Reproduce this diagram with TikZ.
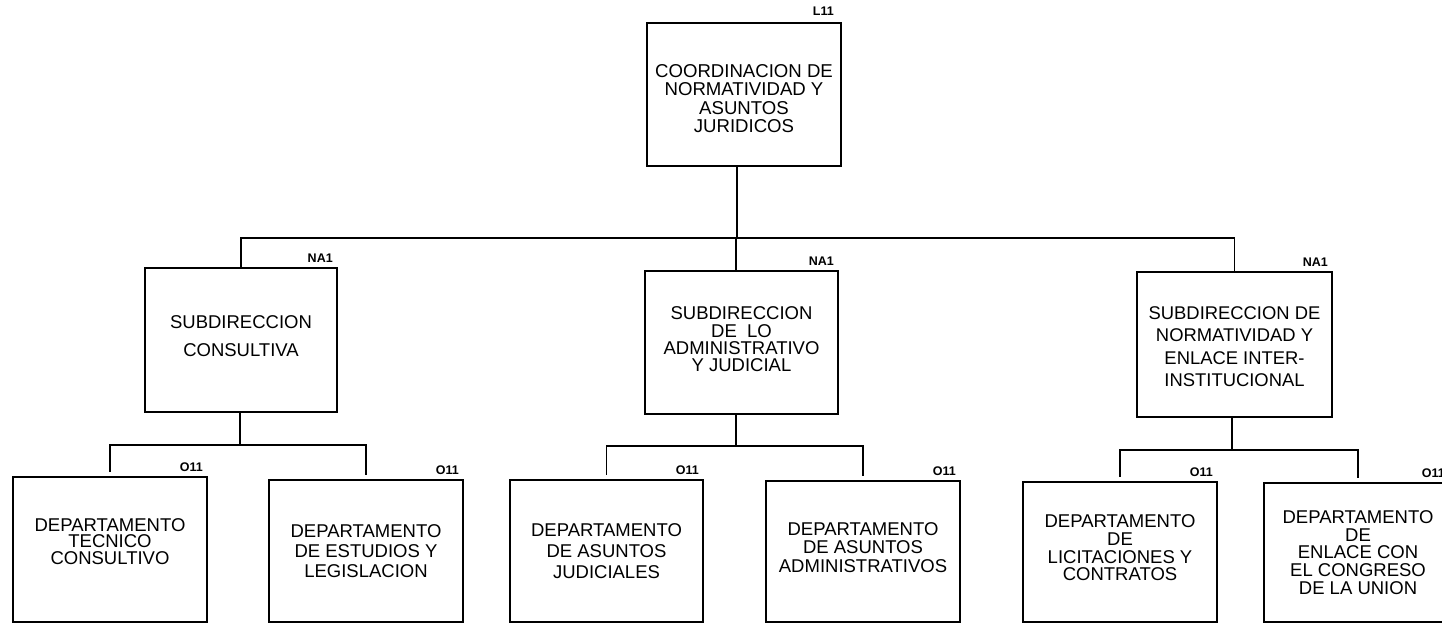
\documentclass[tikz,border=0pt]{standalone}
\usepackage{fontspec}
\setmainfont{Liberation Sans}
\begin{document}
\begin{tikzpicture}[x=1pt,y=-1pt,
  unit/.style={draw=black, line width=1.9pt, rectangle, inner sep=0pt},
  txt/.style={inner sep=0pt, align=center, text=black},
  lbl/.style={inner sep=0pt, anchor=south east, font=\fontsize{12.5}{13}\selectfont\bfseries},
  conn/.style={draw=black, line width=1.9pt},
  drop/.style={conn, shorten >=4pt}]
\fill[white] (0,0) rectangle (1442,624);
\useasboundingbox (0,0) rectangle (1442,624);

% boxes
\node[unit, minimum width=194pt, minimum height=143pt] (top) at (744,94.5) {};
\node[unit, minimum width=192pt, minimum height=144pt] (s1) at (241,340) {};
\node[unit, minimum width=193pt, minimum height=143pt] (s2) at (741.5,342.5) {};
\node[unit, minimum width=195pt, minimum height=145pt] (s3) at (1234.5,344.5) {};
\node[unit, minimum width=194pt, minimum height=145pt] (d1) at (110,549.5) {};
\node[unit, minimum width=194pt, minimum height=142pt] (d2) at (366,551) {};
\node[unit, minimum width=193pt, minimum height=142pt] (d3) at (606.5,551) {};
\node[unit, minimum width=194pt, minimum height=141pt] (d4) at (863,551.5) {};
\node[unit, minimum width=194pt, minimum height=140pt] (d5) at (1120,552) {};
\node[unit, minimum width=188pt, minimum height=139pt] (d6) at (1358,552.5) {};

% box texts
\node[txt, font=\fontsize{18.6}{18.3}\selectfont] (ttop) at ([yshift=-4pt]top.center)
  {COORDINACION DE\\NORMATIVIDAD Y\\ASUNTOS\\JURIDICOS};
\node[txt, font=\fontsize{18.5}{28}\selectfont] (ts1) at ([yshift=4pt]s1.center)
  {SUBDIRECCION\\CONSULTIVA};
\node[txt, font=\fontsize{18.5}{17.4}\selectfont] (ts2) at ([yshift=3pt]s2.center)
  {SUBDIRECCION\\DE\ \ LO\\ADMINISTRATIVO\\Y JUDICIAL};
\node[txt, font=\fontsize{18.4}{22.5}\selectfont] (ts3) at ([yshift=-2pt]s3.center)
  {SUBDIRECCION DE\\NORMATIVIDAD Y\\ENLACE INTER-\\INSTITUCIONAL};
\node[txt, font=\fontsize{18.5}{16.7}\selectfont] (td1) at ([yshift=8pt]d1.center)
  {DEPARTAMENTO\\TECNICO\\CONSULTIVO};
\node[txt, font=\fontsize{18.5}{20}\selectfont] (td2) at (d2.center)
  {DEPARTAMENTO\\DE ESTUDIOS Y\\LEGISLACION};
\node[txt, font=\fontsize{18.5}{20.8}\selectfont] (td3) at (d3.center)
  {DEPARTAMENTO\\DE ASUNTOS\\JUDICIALES};
\node[txt, font=\fontsize{18.5}{18.5}\selectfont] (td4) at ([yshift=4pt]d4.center)
  {DEPARTAMENTO\\DE ASUNTOS\\ADMINISTRATIVOS};
\node[txt, font=\fontsize{18.5}{17.7}\selectfont] (td5) at ([yshift=4pt]d5.center)
  {DEPARTAMENTO\\DE\\LICITACIONES Y\\CONTRATOS};
\node[txt, font=\fontsize{18.5}{17.7}\selectfont] (td6) at (d6.center)
  {DEPARTAMENTO\\DE\\ENLACE CON\\EL CONGRESO\\DE LA UNION};

% level labels
\node[lbl] (l0) at ([xshift=-8pt,yshift=6pt]top.north east) {L11};
\node[lbl] (l1) at ([xshift=-5pt,yshift=4pt]s1.north east) {NA1};
\node[lbl] (l2) at ([xshift=-5pt,yshift=4pt]s2.north east) {NA1};
\node[lbl] (l3) at ([xshift=-5pt,yshift=4pt]s3.north east) {NA1};
\node[lbl] (l4) at ([xshift=-5pt,yshift=4pt]d1.north east) {O11};
\node[lbl] (l5) at ([xshift=-5pt,yshift=4pt]d2.north east) {O11};
\node[lbl] (l6) at ([xshift=-5pt,yshift=4pt]d3.north east) {O11};
\node[lbl] (l7) at ([xshift=-5pt,yshift=4pt]d4.north east) {O11};
\node[lbl] (l8) at ([xshift=-5pt,yshift=4pt]d5.north east) {O11};
\node[lbl] (l9) at ([xshift=-8pt,yshift=4pt]d6.north east) {O11};

% junctions
\coordinate (j0) at (737,238);
\coordinate (j1) at (240,445);
\coordinate (j2) at (736,446);
\coordinate (j3) at (1232,450);

% connectors level 1
\draw[conn] (top.south -| j0) -- (j0);
\draw[conn] (s1.north) |- (j0) -| (s3.north);
\draw[conn] (j0 -| j2) -- (s2.north -| j2);
% connectors level 2
\draw[conn] (s1.south -| j1) -- (j1);
\draw[drop] (j1) -| (d1.north);
\draw[drop] (j1) -| (d2.north);
\draw[conn] (s2.south -| j2) -- (j2);
\draw[drop] (j2) -| (d3.north);
\draw[drop] (j2) -| (d4.north);
\draw[conn] (s3.south -| j3) -- (j3);
\draw[drop] (j3) -| (d5.north);
\draw[drop] (j3) -| (d6.north);
\end{tikzpicture}
\end{document}
